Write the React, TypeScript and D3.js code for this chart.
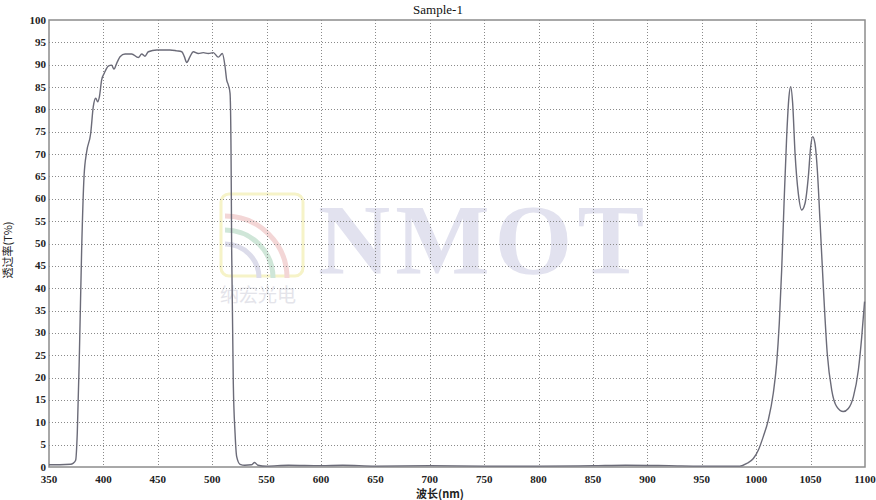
import { useEffect, useRef } from "react";
import * as d3 from "d3";

// wavelength (nm) / transmittance (T%)
const wavelengths = [
  350, 360, 370, 372, 374.5, 376, 378, 380, 382.2, 384.6, 388.3, 390.7, 392.9, 394.8, 396.3,
  398.4, 400.8, 404.5, 407.6, 409.7, 412.2, 415.3, 419.9, 426, 432.1, 435.2, 438.2, 441.3,
  449, 461.2, 467.4, 472, 474.4, 476.6, 479.6, 482.6, 487.2, 491.8, 496.4, 501, 505.6,
  509.3, 511.8, 513.3, 514.8, 516.4, 517.3, 517.9, 519.4, 521, 522.5, 525.6, 530, 536,
  539, 542, 550, 570, 600, 620, 650, 700, 750, 800, 850, 880, 920, 950, 975, 985, 991.3,
  997.4, 1002, 1006.5, 1011.1, 1015.7, 1018.8, 1021.2, 1023.4, 1025.6, 1028, 1030.1,
  1031.7, 1033.5, 1035.7, 1038.7, 1041.8, 1044.9, 1047.9, 1050.1, 1051.9, 1054, 1056.2,
  1058.6, 1061.7, 1065.3, 1069.4, 1074, 1080, 1084.7, 1089.3, 1093.9, 1097, 1099.6,
];
const transmittance = [
  0.5, 0.5, 0.6, 0.8, 1.5, 7.6, 26, 48.5, 65, 70.5, 74.6, 80.6, 82.5, 81.7, 82.8,
  86.6, 88.1, 89.7, 89.9, 89, 90.3, 91.8, 92.4, 92.4, 91.6, 92.4, 91.9, 92.9,
  93.3, 93.3, 93.1, 92.9, 91.8, 90.5, 91.8, 92.9, 92.5, 92.7, 92.5, 92.7, 91.7,
  92.5, 89.6, 86.6, 85.5, 83.6, 70.9, 48.5, 18.7, 7.6, 2.3, 0.6, 0.4, 0.5,
  1.0, 0.4, 0.2, 0.4, 0.3, 0.4, 0.2, 0.3, 0.2, 0.2, 0.3, 0.4, 0.3, 0.2, 0.2, 0.2, 0.8,
  1.9, 3.8, 6.8, 10.5, 16.5, 23.2, 32.1, 44, 59, 73.9, 82.8,
  85.1, 81.4, 70.2, 61.2, 57.5, 59, 64.9, 71.7, 73.9, 72.4, 66.4,
  55.3, 40.3, 25.4, 17.2, 13.5, 12.4, 13.1, 15.7, 21.7, 29.1, 37.0,
];

const xTicks = d3.range(350, 1101, 50);
const yTicks = d3.range(0, 101, 5);

const serif = "'Liberation Serif', 'DejaVu Serif', serif";
const cjk = "'Noto Sans CJK SC', sans-serif";

export default function App() {
  const svgRef = useRef<SVGSVGElement>(null);
  const width = 876;
  const height = 500;
  const margin = { left: 49, right: 11, top: 20, bottom: 33 };

  useEffect(() => {
    if (!svgRef.current) return;
    const svg = d3.select(svgRef.current);
    svg.selectAll("*").remove();

    const x = d3.scaleLinear().domain([350, 1100]).range([margin.left, width - margin.right]);
    const y = d3.scaleLinear().domain([0, 100]).range([height - margin.bottom, margin.top]);

    svg.append("rect").attr("width", width).attr("height", height).attr("fill", "#fff");

    // watermark
    const wm = svg.append("g").attr("pointer-events", "none");
    wm.append("rect")
      .attr("x", 221).attr("y", 194).attr("width", 82).attr("height", 82).attr("rx", 8)
      .attr("fill", "none").attr("stroke", "#f6f3c8").attr("stroke-width", 3);
    const arc = (r: number) => `M${225},${278 - r} A${r},${r} 0 0 1 ${225 + r},${278}`;
    wm.append("path").attr("d", arc(62)).attr("fill", "none").attr("stroke", "#f3d6d6").attr("stroke-width", 5);
    wm.append("path").attr("d", arc(48)).attr("fill", "none").attr("stroke", "#cfe6d8").attr("stroke-width", 5);
    wm.append("path").attr("d", arc(34)).attr("fill", "none").attr("stroke", "#dcdcea").attr("stroke-width", 5);
    wm.append("text")
      .attr("x", 258).attr("y", 302).attr("text-anchor", "middle")
      .attr("font-family", cjk).attr("font-size", 19).attr("fill", "#e4e4ea")
      .text("纳宏光电");
    wm.append("text")
      .attr("x", 318).attr("y", 273)
      .attr("font-family", serif).attr("font-weight", "bold").attr("font-size", 100)
      .attr("letter-spacing", 5).attr("fill", "#e2e2ef")
      .text("NMOT");

    // grid
    const grid = svg.append("g").attr("stroke", "#8a8a8a").attr("stroke-width", 1).attr("stroke-dasharray", "1,2");
    grid.selectAll("line.v")
      .data(xTicks.slice(1, -1))
      .enter().append("line")
      .attr("x1", d => Math.round(x(d)) + 0.5).attr("x2", d => Math.round(x(d)) + 0.5)
      .attr("y1", y(100)).attr("y2", y(0));
    grid.selectAll("line.h")
      .data(yTicks.slice(1, -1))
      .enter().append("line")
      .attr("x1", x(350)).attr("x2", x(1100))
      .attr("y1", d => Math.round(y(d)) + 0.5).attr("y2", d => Math.round(y(d)) + 0.5);

    // frame
    svg.append("rect")
      .attr("x", x(350)).attr("y", y(100))
      .attr("width", x(1100) - x(350)).attr("height", y(0) - y(100))
      .attr("fill", "none").attr("stroke", "#8c8c8c").attr("stroke-width", 1.5);

    // curve
    const pts = wavelengths.map((w, i) => [w, transmittance[i]] as [number, number]);
    const line = d3.line<[number, number]>()
      .x(d => x(d[0]))
      .y(d => y(d[1]))
      .curve(d3.curveMonotoneX);
    svg.append("path")
      .datum(pts)
      .attr("d", line)
      .attr("fill", "none")
      .attr("stroke", "#6b6b78")
      .attr("stroke-width", 1.4);

    // tick labels
    svg.append("g")
      .selectAll("text")
      .data(xTicks)
      .enter().append("text")
      .attr("x", d => x(d)).attr("y", height - margin.bottom + 16)
      .attr("text-anchor", "middle")
      .attr("font-family", serif).attr("font-size", 11).attr("font-weight", "bold")
      .attr("fill", "#222")
      .text(d => d);
    svg.append("g")
      .selectAll("text")
      .data(yTicks)
      .enter().append("text")
      .attr("x", margin.left - 3).attr("y", d => y(d) + 3.5)
      .attr("text-anchor", "end")
      .attr("font-family", serif).attr("font-size", 11).attr("font-weight", "bold")
      .attr("fill", "#222")
      .text(d => d);

    // titles
    svg.append("text")
      .attr("x", 438).attr("y", 14).attr("text-anchor", "middle")
      .attr("font-family", serif).attr("font-size", 13).attr("fill", "#111")
      .text("Sample-1");
    svg.append("text")
      .attr("x", 440).attr("y", 498).attr("text-anchor", "middle")
      .attr("font-family", cjk).attr("font-size", 11).attr("font-weight", "bold").attr("fill", "#222")
      .text("波长(nm)");
    svg.append("text")
      .attr("transform", `translate(12,${250}) rotate(-90)`)
      .attr("text-anchor", "middle")
      .attr("font-family", cjk).attr("font-size", 11).attr("fill", "#222")
      .text("透过率(T%)");
  }, []);

  return (
    <svg
      ref={svgRef}
      width={width}
      height={height}
      style={{ position: "absolute", left: 0, top: 0, display: "block" }}
    />
  );
}
